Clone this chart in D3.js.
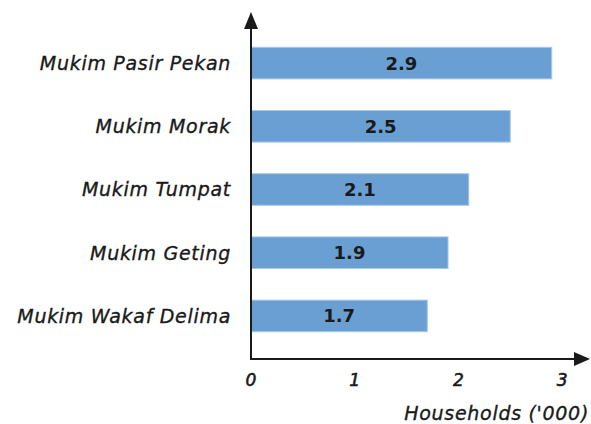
<!DOCTYPE html>
<html>
<head>
<meta charset="utf-8">
<script src="https://cdn.jsdelivr.net/npm/d3@7"></script>
<style>
  html, body { margin: 0; padding: 0; background: #fff; }
  svg { display: block; }
  text { font-family: "DejaVu Sans", "Lato", sans-serif; }
</style>
</head>
<body>
<script>
// Households per mukim, in thousands
const categories = ["Mukim Pasir Pekan", "Mukim Morak", "Mukim Tumpat", "Mukim Geting", "Mukim Wakaf Delima"];
const values = [2.9, 2.5, 2.1, 1.9, 1.7];
const tickValues = [0, 1, 2, 3];
const xTitle = "Households ('000)";

const width = 591, height = 424;
const originX = 251, originY = 359;
const ink = "#1a1a1a";

const svg = d3.select("body").append("svg")
  .attr("width", width).attr("height", height);

const x = d3.scaleLinear().domain([0, 3]).range([originX, originX + 3 * 103.7]);
const y = d3.scaleBand().domain(categories)
  .range([31.5, 347.5]).paddingInner(0.5).paddingOuter(0.25);

// Bars
svg.append("g").selectAll("rect")
  .data(values)
  .join("rect")
  .attr("x", x(0))
  .attr("y", (d, i) => y(categories[i]))
  .attr("width", d => x(d) - x(0))
  .attr("height", y.bandwidth())
  .attr("fill", "#6a9fd3")
  .attr("stroke", "#a9c8e9")
  .attr("stroke-width", 1);

// Value labels centred in each bar
svg.append("g").selectAll("text")
  .data(values)
  .join("text")
  .attr("x", d => (x(0) + x(d)) / 2)
  .attr("y", (d, i) => y(categories[i]) + y.bandwidth() / 2)
  .attr("dy", "0.36em")
  .attr("text-anchor", "middle")
  .attr("font-size", 18)
  .attr("font-weight", "bold")
  .attr("fill", ink)
  .text(d => d.toFixed(1));

// Category labels
svg.append("g").selectAll("text")
  .data(categories)
  .join("text")
  .attr("x", 231)
  .attr("y", d => y(d) + y.bandwidth() / 2)
  .attr("dy", "0.36em")
  .attr("text-anchor", "end")
  .attr("font-size", 19)
  .attr("font-style", "italic")
  .attr("letter-spacing", 0.7)
  .attr("fill", ink)
  .attr("stroke", ink)
  .attr("stroke-width", 0.35)
  .text(d => d);

// Axes with arrowheads
svg.append("line")
  .attr("x1", originX).attr("y1", originY + 1)
  .attr("x2", originX).attr("y2", 26)
  .attr("stroke", ink).attr("stroke-width", 2);
svg.append("line")
  .attr("x1", originX - 1).attr("y1", originY)
  .attr("x2", 578).attr("y2", originY)
  .attr("stroke", ink).attr("stroke-width", 2);
svg.append("path")
  .attr("d", `M${originX},12 L${originX - 7},29 L${originX + 7},29 Z`)
  .attr("fill", ink);
svg.append("path")
  .attr("d", `M590,${originY} L574,${originY - 7} L574,${originY + 7} Z`)
  .attr("fill", ink);

// Tick labels
svg.append("g").selectAll("text")
  .data(tickValues)
  .join("text")
  .attr("x", d => x(d))
  .attr("y", 380)
  .attr("dy", "0.36em")
  .attr("text-anchor", "middle")
  .attr("font-size", 17)
  .attr("font-style", "italic")
  .attr("fill", ink)
  .attr("stroke", ink)
  .attr("stroke-width", 0.6)
  .text(d => d);

// Axis title
svg.append("text")
  .attr("x", 589)
  .attr("y", 413)
  .attr("dy", "0.36em")
  .attr("text-anchor", "end")
  .attr("font-size", 19)
  .attr("font-style", "italic")
  .attr("letter-spacing", 0.7)
  .attr("fill", ink)
  .attr("stroke", ink)
  .attr("stroke-width", 0.35)
  .text(xTitle);
</script>
</body>
</html>
